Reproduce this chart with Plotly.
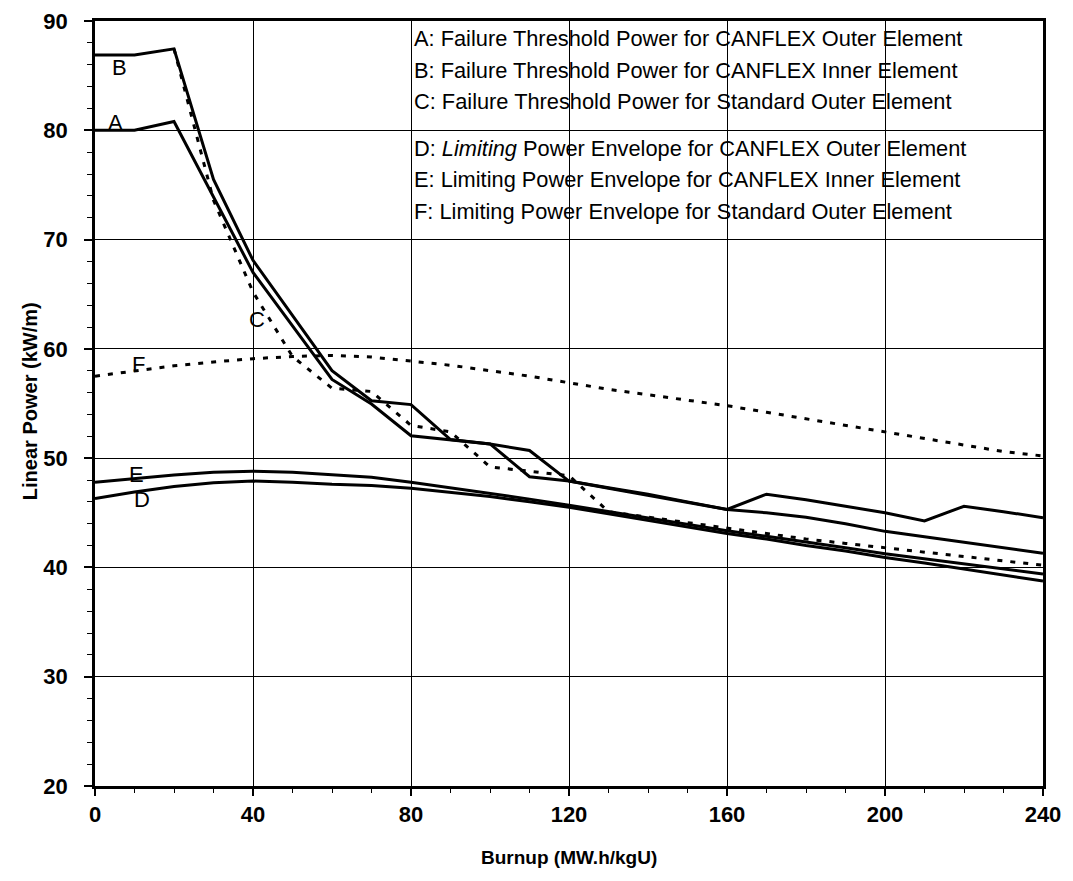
import plotly.graph_objects as go

# ---------------- data ----------------
burnup_a = [0, 10, 20, 40, 60, 70, 80, 90, 100, 110, 120, 130, 140, 150, 160,
            170, 180, 190, 200, 210, 220, 230, 240]
power_a = [80.0, 80.0, 80.8, 67.0, 57.2, 54.95, 52.05, 51.7, 51.3, 48.3, 47.9, 47.3,
           46.7, 46.0, 45.3, 45.0, 44.6, 44.0, 43.3, 42.8, 42.3, 41.8, 41.3]

burnup_b = [0, 10, 20, 30, 40, 60, 70, 80, 90, 100, 110, 120, 130, 140, 150, 160,
            170, 180, 190, 200, 210, 220, 230, 240]
power_b = [86.9, 86.9, 87.45, 75.5, 68.1, 58.0, 55.25, 54.9, 51.7, 51.3, 50.7, 47.9,
           47.25, 46.6, 45.95, 45.3, 46.7, 46.2, 45.6, 45.0, 44.25, 45.6, 45.1, 44.55]

burnup_c = [20, 30, 40, 50, 60, 70, 80, 90, 100, 110, 120, 130, 140, 150, 160,
            170, 180, 190, 200, 210, 220, 230, 240]
power_c = [87.45, 73.6, 65.2, 59.3, 56.4, 56.1, 53.0, 52.4, 49.2, 48.8, 48.4, 45.1,
           44.6, 44.1, 43.6, 43.1, 42.6, 42.2, 41.8, 41.4, 41.0, 40.6, 40.2]

burnup_env = [0, 10, 20, 30, 40, 50, 60, 70, 80, 90, 100, 110, 120, 130, 140, 150,
              160, 170, 180, 190, 200, 210, 220, 230, 240]
power_d = [46.3, 46.9, 47.4, 47.75, 47.9, 47.8, 47.6, 47.5, 47.25, 46.9, 46.5, 46.0,
           45.5, 44.9, 44.3, 43.7, 43.1, 42.6, 42.0, 41.5, 40.9, 40.4, 39.85, 39.3, 38.75]
power_e = [47.8, 48.15, 48.45, 48.7, 48.8, 48.7, 48.5, 48.25, 47.8, 47.3, 46.8, 46.25,
           45.7, 45.1, 44.5, 43.9, 43.35, 42.85, 42.35, 41.8, 41.25, 40.8, 40.3, 39.85, 39.4]
power_f = [57.5, 58.0, 58.45, 58.8, 59.1, 59.3, 59.4, 59.25, 58.9, 58.5, 58.0, 57.5,
           56.9, 56.3, 55.8, 55.3, 54.8, 54.2, 53.6, 53.0, 52.4, 51.8, 51.2, 50.6, 50.2]

legend_lines = [
    "A: Failure Threshold Power for CANFLEX Outer Element",
    "B: Failure Threshold Power for CANFLEX Inner Element",
    "C: Failure Threshold Power for Standard Outer Element",
    "D: <i>Limiting</i> Power Envelope for CANFLEX Outer Element",
    "E: Limiting Power Envelope for CANFLEX Inner Element",
    "F: Limiting Power Envelope for Standard Outer Element",
]
curve_labels = ["A", "B", "C", "D", "E", "F"]

x_title = "Burnup (MW.h/kgU)"
y_title = "Linear Power (kW/m)"

# ---------------- figure ----------------
FONT = "Liberation Sans, Arial, sans-serif"
solid = dict(color="black", width=3)
dotted = dict(color="black", width=3, dash="5px,8px")

fig = go.Figure()
fig.add_trace(go.Scatter(x=burnup_env, y=power_d, mode="lines", line=solid))
fig.add_trace(go.Scatter(x=burnup_env, y=power_e, mode="lines", line=solid))
fig.add_trace(go.Scatter(x=burnup_env, y=power_f, mode="lines", line=dotted))
fig.add_trace(go.Scatter(x=burnup_c, y=power_c, mode="lines", line=dotted))
fig.add_trace(go.Scatter(x=burnup_a, y=power_a, mode="lines", line=solid))
fig.add_trace(go.Scatter(x=burnup_b, y=power_b, mode="lines", line=solid))

annotations = []
# legend text block (drawn over the grid, no background)
legend_y = [88.4, 85.5, 82.6, 78.35, 75.5, 72.6]
for txt, yy in zip(legend_lines, legend_y):
    annotations.append(dict(x=80, y=yy, xref="x", yref="y", text=txt, showarrow=False,
                            xanchor="left", yanchor="middle", xshift=1,
                            font=dict(family=FONT, size=21.8, color="black")))
# curve labels
label_pos = {"A": (5.3, 80.7), "B": (6.1, 85.7), "C": (40.9, 62.7),
             "D": (11.8, 46.2), "E": (10.5, 48.5), "F": (11.1, 58.55)}
for lab in curve_labels:
    lx, ly = label_pos[lab]
    annotations.append(dict(x=lx, y=ly, xref="x", yref="y", text=lab, showarrow=False,
                            xanchor="center", yanchor="middle",
                            font=dict(family=FONT, size=22, color="black")))
# axis titles
annotations.append(dict(x=0.5, y=-0.094, xref="paper", yref="paper", text="<b>" + x_title + "</b>",
                        showarrow=False, xanchor="center", yanchor="middle",
                        font=dict(family=FONT, size=19, color="black")))
annotations.append(dict(x=-0.0686, y=0.503, xref="paper", yref="paper", text="<b>" + y_title + "</b>",
                        showarrow=False, xanchor="center", yanchor="middle", textangle=-90,
                        font=dict(family=FONT, size=20, color="black")))

# margins compensate for the 8px default page (body) margin
fig.update_layout(
    width=1073, height=881,
    margin=dict(l=87, r=38, t=13, b=103, autoexpand=False),
    paper_bgcolor="white", plot_bgcolor="white",
    showlegend=False,
    annotations=annotations,
    font=dict(family=FONT, color="black"),
)
fig.update_xaxes(
    range=[0, 240], tick0=0, dtick=40, showgrid=True, gridcolor="black", gridwidth=1,
    showline=True, linecolor="black", linewidth=2.5, mirror=True,
    ticks="outside", ticklen=7, tickwidth=1.5, tickcolor="black",
    minor=dict(dtick=10, ticks="outside", ticklen=4, tickwidth=1, tickcolor="black", showgrid=False),
    tickfont=dict(family=FONT, size=22, color="black", weight="bold"),
    zeroline=False, ticklabelstandoff=0, automargin=False,
)
fig.update_yaxes(
    range=[20, 90], tick0=20, dtick=10, showgrid=True, gridcolor="black", gridwidth=1,
    showline=True, linecolor="black", linewidth=2.5, mirror=True,
    ticks="outside", ticklen=8, tickwidth=1.5, tickcolor="black",
    minor=dict(dtick=2, ticks="outside", ticklen=5, tickwidth=1, tickcolor="black", showgrid=False),
    tickfont=dict(family=FONT, size=22, color="black", weight="bold"),
    zeroline=False, ticklabelstandoff=12, automargin=False,
)

fig.write_html("out.html")
